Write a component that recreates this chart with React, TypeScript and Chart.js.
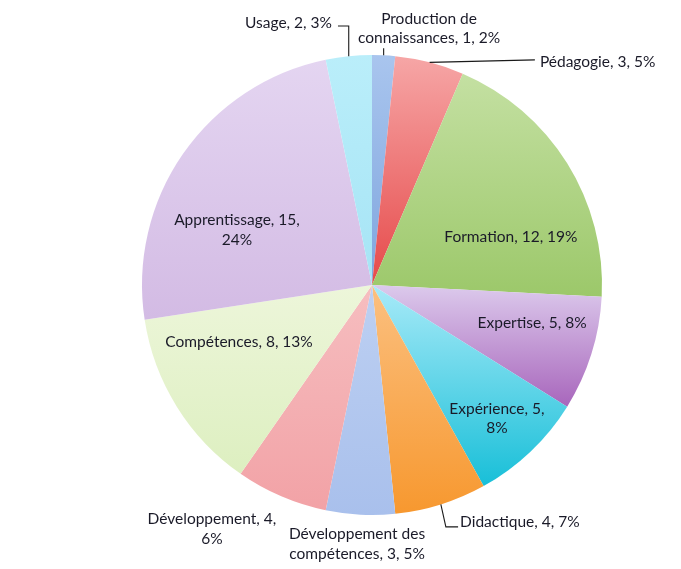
import React, { useEffect, useRef } from "react";
import { Chart, registerables } from "chart.js";

Chart.register(...registerables);

const CATEGORIES = [
  "Production de connaissances",
  "Pédagogie",
  "Formation",
  "Expertise",
  "Expérience",
  "Didactique",
  "Développement des compétences",
  "Développement",
  "Compétences",
  "Apprentissage",
  "Usage",
];
const COUNTS = [1, 3, 12, 5, 5, 4, 3, 4, 8, 15, 2];
const PERCENT_LABELS = ["2%", "5%", "19%", "8%", "8%", "7%", "5%", "6%", "13%", "24%", "3%"];

// gradient colours per slice (top -> bottom)
const COLOR_TOP = ["#a9c5ee", "#f6a6a6", "#c4e0a2", "#dccaec", "#a8eaf8", "#fbc080", "#bdd0f2", "#f6bec0", "#edf6da", "#e4d5f1", "#baeefa"];
const COLOR_BOTTOM = ["#7fa6de", "#e64a4a", "#9cc86a", "#a866bc", "#18bfd8", "#f7982f", "#a9c0ec", "#f2a2a6", "#ddefc0", "#d3bbe4", "#a6e4f5"];

// label placement relative to pie centre, in units of radius
type LabelLayout = { dx: number; dy: number; align: CanvasTextAlign; wrap: number; leader?: string };
const LABEL_LAYOUT: LabelLayout[] = [
  { dx: 0.248, dy: -1.115, align: "center", wrap: 160, leader: "up" },
  { dx: 0.73, dy: -0.97, align: "left", wrap: 400, leader: "straight" },
  { dx: 0.604, dy: -0.209, align: "center", wrap: 400 },
  { dx: 0.696, dy: 0.165, align: "center", wrap: 400 },
  { dx: 0.543, dy: 0.58, align: "center", wrap: 110 },
  { dx: 0.383, dy: 1.03, align: "left", wrap: 400, leader: "elbowDown" },
  { dx: -0.065, dy: 1.126, align: "center", wrap: 150 },
  { dx: -0.696, dy: 1.061, align: "center", wrap: 140 },
  { dx: -0.578, dy: 0.248, align: "center", wrap: 400 },
  { dx: -0.587, dy: -0.239, align: "center", wrap: 145 },
  { dx: -0.174, dy: -1.139, align: "right", wrap: 400, leader: "elbowUp" },
];

const FONT = "15.5px Lato";
const LINE_H = 19.5;
const TEXT_COLOR = "#1a1a28";

function wrapText(ctx: CanvasRenderingContext2D, text: string, maxW: number): string[] {
  const words = text.split(" ");
  const lines: string[] = [];
  let cur = "";
  for (const w of words) {
    const test = cur ? cur + " " + w : w;
    if (cur && ctx.measureText(test).width > maxW) {
      lines.push(cur);
      cur = w;
    } else cur = test;
  }
  if (cur) lines.push(cur);
  return lines;
}

const gradientPlugin = {
  id: "sliceGradient",
  beforeDatasetsDraw(chart: any) {
    const ctx = chart.ctx as CanvasRenderingContext2D;
    const meta = chart.getDatasetMeta(0);
    meta.data.forEach((arc: any, i: number) => {
      const { x, y, startAngle, endAngle, outerRadius } = arc.getProps(["x", "y", "startAngle", "endAngle", "outerRadius"], true);
      const ys = [y, y + outerRadius * Math.sin(startAngle), y + outerRadius * Math.sin(endAngle)];
      for (const a of [-Math.PI / 2, Math.PI / 2, (3 * Math.PI) / 2]) {
        if (a > startAngle && a < endAngle) ys.push(y + outerRadius * Math.sin(a));
      }
      const y0 = Math.min(...ys);
      const y1 = Math.max(...ys);
      const g = ctx.createLinearGradient(0, y0, 0, y1 + 0.01);
      g.addColorStop(0, COLOR_TOP[i]);
      g.addColorStop(1, COLOR_BOTTOM[i]);
      arc.options = Object.assign({}, arc.options, { backgroundColor: g, borderWidth: 0 });
    });
  },
};

const labelPlugin = {
  id: "sliceLabels",
  afterDatasetsDraw(chart: any) {
    const ctx = chart.ctx as CanvasRenderingContext2D;
    const meta = chart.getDatasetMeta(0);
    ctx.save();
    ctx.font = FONT;
    ctx.fillStyle = TEXT_COLOR;
    ctx.strokeStyle = "#1a1a1a";
    ctx.lineWidth = 1.1;
    ctx.textBaseline = "middle";
    meta.data.forEach((arc: any, i: number) => {
      const { x, y, startAngle, endAngle, outerRadius } = arc.getProps(["x", "y", "startAngle", "endAngle", "outerRadius"], true);
      const L = LABEL_LAYOUT[i];
      const lx = x + L.dx * outerRadius;
      const ly = y + L.dy * outerRadius;
      const text = `${CATEGORIES[i]}, ${COUNTS[i]}, ${PERCENT_LABELS[i]}`;
      const lines = wrapText(ctx, text, L.wrap);
      ctx.textAlign = L.align;
      const top = ly - ((lines.length - 1) * LINE_H) / 2;
      lines.forEach((ln, k) => ctx.fillText(ln, lx, top + k * LINE_H));

      const mid = (startAngle + endAngle) / 2;
      const ex = x + outerRadius * Math.cos(mid);
      const ey = y + outerRadius * Math.sin(mid);
      if (L.leader) {
        ctx.beginPath();
        if (L.leader === "up") {
          ctx.moveTo(ex, ey);
          ctx.lineTo(ex, ey - 7);
        } else if (L.leader === "straight") {
          ctx.moveTo(ex, ey);
          ctx.lineTo(lx - 5, ly - 2);
        } else if (L.leader === "elbowDown") {
          ctx.moveTo(ex, ey);
          ctx.lineTo(ex + 5, ly + 5);
          ctx.lineTo(lx - 2, ly + 5);
        } else if (L.leader === "elbowUp") {
          ctx.moveTo(ex, ey);
          ctx.lineTo(ex, ly + 3);
          ctx.lineTo(lx + 6, ly + 3);
        }
        ctx.stroke();
      }
    });
    ctx.restore();
  },
};

export default function App() {
  const canvasRef = useRef<HTMLCanvasElement | null>(null);

  useEffect(() => {
    if (!canvasRef.current) return;
    const chart = new Chart(canvasRef.current, {
      type: "pie",
      data: {
        labels: CATEGORIES,
        datasets: [
          {
            data: COUNTS,
            backgroundColor: COLOR_BOTTOM,
            borderWidth: 0,
          },
        ],
      },
      options: {
        animation: false,
        responsive: true,
        maintainAspectRatio: false,
        layout: { padding: { left: 142, right: 79, top: 55, bottom: 54 } },
        plugins: {
          legend: { display: false },
          tooltip: { enabled: false },
        },
      },
      plugins: [gradientPlugin, labelPlugin],
    });
    return () => chart.destroy();
  }, []);

  return (
    <div style={{ position: "absolute", left: 0, top: 0, width: 681, height: 569, background: "#fff" }}>
      <canvas ref={canvasRef} />
    </div>
  );
}
